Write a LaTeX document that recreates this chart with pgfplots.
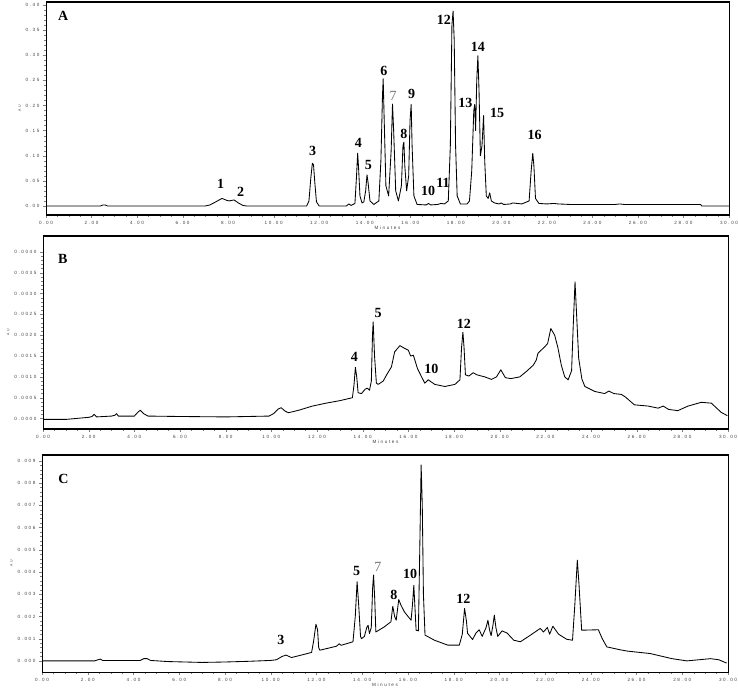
\documentclass[border=0pt]{standalone}
\usepackage{fontspec}
\setmainfont{Liberation Serif}
\setsansfont{Liberation Sans}
\newfontfamily\tickfont[LetterSpace=35]{Liberation Sans}
\usepackage{pgfplots}
\pgfplotsset{compat=1.18}

\pgfplotsset{
  chrom/.style={
    scale only axis, clip=false, scaled ticks=false,
    xmin=0, xmax=30, xtick={0,2,...,30}, minor x tick num=3,
    tick pos=left, tick align=outside,
    major tick length=3pt, minor tick length=1.8pt,
    axis line style={draw=black, line width=0.9pt},
    /pgf/number format/assume math mode=true,
    tick label style={font=\tickfont\fontsize{4.6}{5}\selectfont, color=black!75},
    xticklabel style={/pgf/number format/fixed, /pgf/number format/fixed zerofill, /pgf/number format/precision=2},
    xlabel={Minutes}, xlabel style={font=\tickfont\fontsize{4.6}{5}\selectfont, color=black!75, yshift=5pt},
    ylabel={AU}, ylabel style={font=\tickfont\fontsize{3.5}{4}\selectfont, color=black!75, yshift=-2pt},
  },
  trace/.style={black, line width=0.85pt, line join=round},
}
\tikzset{
  pk/.style={font=\fontsize{14}{14}\selectfont\bfseries, inner sep=0pt},
  pkl/.style={font=\fontsize{14}{14}\selectfont, text=black!55, inner sep=0pt},
}

\begin{document}
\begin{tikzpicture}[x=1pt,y=1pt]
\useasboundingbox (0,0) rectangle (738,688);

% ---------------- A ----------------
\begin{axis}[chrom, at={(46pt,473pt)}, anchor=south west, width=683pt, height=213pt,
  ymin=-0.018, ymax=0.406, ytick={0,0.05,...,0.40}, minor y tick num=4,
  yticklabel style={/pgf/number format/fixed, /pgf/number format/fixed zerofill, /pgf/number format/precision=2}]
\addplot[trace] coordinates {
(0,0) (2.40,0) (2.50,0.002) (2.60,0.002) (2.70,0) (7.00,0) (7.20,0.002) (7.45,0.008)
(7.73,0.015) (7.95,0.011) (8.05,0.010) (8.26,0.012) (8.45,0.006) (8.65,0.001) (8.80,0)
(11.45,0) (11.55,0.010) (11.63,0.055) (11.70,0.085) (11.75,0.082) (11.81,0.045) (11.88,0.008) (12.00,0)
(13.20,0) (13.30,0.004) (13.40,0.001) (13.57,0.005) (13.64,0.060) (13.69,0.105) (13.73,0.075)
(13.79,0.020) (13.88,0.006) (13.96,0.008) (14.04,0.030) (14.10,0.062) (14.15,0.045) (14.23,0.010)
(14.40,0.003) (14.62,0.010) (14.71,0.090) (14.78,0.220) (14.81,0.253) (14.85,0.180) (14.93,0.040)
(15.05,0.020) (15.16,0.110) (15.22,0.203) (15.27,0.150) (15.36,0.030) (15.48,0.010) (15.61,0.040)
(15.68,0.120) (15.72,0.127) (15.76,0.080) (15.84,0.030) (15.93,0.060) (15.99,0.170) (16.04,0.202)
(16.08,0.120) (16.16,0.020) (16.30,0.003) (16.70,0.002) (16.80,0.005) (16.90,0.002) (17.20,0.003)
(17.35,0.005) (17.50,0.004) (17.67,0.010) (17.76,0.120) (17.83,0.360) (17.88,0.388) (17.93,0.330)
(17.99,0.120) (18.06,0.020) (18.20,0.004) (18.50,0.004) (18.60,0.010) (18.70,0.070) (18.79,0.190)
(18.83,0.202) (18.87,0.150) (18.92,0.250) (18.97,0.299) (19.02,0.230) (19.08,0.100) (19.15,0.120)
(19.22,0.180) (19.27,0.090) (19.34,0.020) (19.42,0.015) (19.49,0.026) (19.56,0.010) (19.70,0.006)
(19.90,0.004) (20.00,0.006) (20.10,0.003) (20.40,0.004) (20.50,0.006) (20.70,0.005) (20.90,0.004)
(21.22,0.010) (21.31,0.070) (21.38,0.105) (21.43,0.080) (21.50,0.015) (21.65,0.005) (22.00,0.004)
(22.30,0.005) (22.50,0.004) (23.00,0.003) (25.00,0.003) (25.20,0.004) (25.40,0.003) (28.75,0.003)
(28.80,0) (30.00,0)
};
\node[pk] at (axis cs:0.76,0.378) {A};
\node[pk] at (axis cs:7.67,0.044) {1};
\node[pk] at (axis cs:8.55,0.029) {2};
\node[pk] at (axis cs:11.71,0.109) {3};
\node[pk] at (axis cs:13.72,0.125) {4};
\node[pk] at (axis cs:14.16,0.081) {5};
\node[pk] at (axis cs:14.84,0.269) {6};
\node[pkl] at (axis cs:15.25,0.219) {7};
\node[pk] at (axis cs:15.72,0.144) {8};
\node[pk] at (axis cs:16.06,0.223) {9};
\node[pk] at (axis cs:16.78,0.029) {10};
\node[pk] at (axis cs:17.44,0.046) {11};
\node[pk] at (axis cs:17.48,0.370) {12};
\node[pk] at (axis cs:18.42,0.205) {13};
\node[pk] at (axis cs:18.97,0.317) {14};
\node[pk] at (axis cs:19.82,0.186) {15};
\node[pk] at (axis cs:21.46,0.142) {16};
\end{axis}

% ---------------- B ----------------
\begin{axis}[chrom, at={(43pt,259pt)}, anchor=south west, width=685pt, height=193pt,
  ymin=-0.00025, ymax=0.00438, ytick={0,0.0005,...,0.0041}, minor y tick num=4,
  yticklabel style={/pgf/number format/fixed, /pgf/number format/fixed zerofill, /pgf/number format/precision=4}]
\addplot[trace] coordinates {
(0,-0.00002) (1.0,-0.00002) (2.0,0.00003) (2.15,0.00005) (2.24,0.00010) (2.35,0.00004) (3.0,0.00006)
(3.15,0.00008) (3.22,0.00012) (3.30,0.00006) (4.00,0.00006) (4.15,0.00015) (4.26,0.00020) (4.40,0.00012)
(4.60,0.00006) (6.0,0.00005) (8.0,0.00004) (9.90,0.00006) (10.10,0.00012) (10.30,0.00023) (10.43,0.00026)
(10.60,0.00018) (10.75,0.00014) (11.20,0.00020) (11.80,0.00030) (12.40,0.00037) (13.00,0.00043)
(13.55,0.00050) (13.62,0.00080) (13.68,0.00123) (13.74,0.00100) (13.80,0.00062) (13.95,0.00060)
(14.10,0.00070) (14.20,0.00073) (14.30,0.00068) (14.38,0.00090) (14.43,0.00200) (14.46,0.00232)
(14.52,0.00150) (14.60,0.00085) (14.68,0.00082) (14.90,0.00090) (15.05,0.00105) (15.26,0.00124)
(15.40,0.00160) (15.63,0.00175) (15.85,0.00168) (16.00,0.00164) (16.10,0.00150) (16.22,0.00152)
(16.40,0.00120) (16.58,0.00100) (16.72,0.00085) (16.87,0.00093) (17.00,0.00088) (17.16,0.00082)
(17.60,0.00077) (18.04,0.00082) (18.26,0.00093) (18.33,0.00170) (18.39,0.00207) (18.44,0.00170)
(18.50,0.00105) (18.65,0.00102) (18.84,0.00110) (19.00,0.00105) (19.35,0.00100) (19.64,0.00094)
(19.86,0.00100) (20.05,0.00117) (20.25,0.00098) (20.50,0.00096) (20.88,0.00100) (21.17,0.00113)
(21.47,0.00128) (21.60,0.00140) (21.68,0.00157) (21.97,0.00172) (22.10,0.00180) (22.24,0.00216)
(22.41,0.00200) (22.55,0.00170) (22.70,0.00128) (22.85,0.00100) (23.00,0.00093) (23.15,0.00115)
(23.22,0.00220) (23.30,0.00328) (23.36,0.00260) (23.46,0.00145) (23.60,0.00095) (23.73,0.00077)
(24.17,0.00065) (24.60,0.00060) (24.78,0.00066) (25.00,0.00060) (25.33,0.00058) (25.50,0.00052)
(25.90,0.00033) (26.50,0.00030) (26.94,0.00025) (27.16,0.00030) (27.40,0.00022) (27.80,0.00019)
(28.25,0.00030) (28.83,0.00039) (29.27,0.00037) (29.70,0.00015) (29.97,0.00007)
};
\node[pk] at (axis cs:0.87,0.00383) {B};
\node[pk] at (axis cs:13.64,0.00148) {4};
\node[pk] at (axis cs:14.68,0.00254) {5};
\node[pk] at (axis cs:17.01,0.00119) {10};
\node[pk] at (axis cs:18.43,0.00228) {12};
\end{axis}

% ---------------- C ----------------
\begin{axis}[chrom, at={(42pt,16pt)}, anchor=south west, width=686pt, height=217pt,
  ymin=-0.0005, ymax=0.00926, ytick={0,0.001,...,0.0091}, minor y tick num=4,
  yticklabel style={/pgf/number format/fixed, /pgf/number format/fixed zerofill, /pgf/number format/precision=3}]
\addplot[trace] coordinates {
(0,0) (2.3,0) (2.45,0.00005) (2.55,0.00008) (2.65,0.00002) (4.30,0.00002) (4.45,0.00010) (4.60,0.00010)
(4.75,0.00002) (5.5,-0.00003) (7.0,-0.00007) (8.0,-0.00005) (9.0,-0.00002) (10.0,0.00002) (10.25,0.00005)
(10.50,0.00020) (10.67,0.00026) (10.91,0.00015) (11.30,0.00025) (11.79,0.00038) (11.88,0.00090)
(11.98,0.00165) (12.05,0.00140) (12.10,0.00060) (12.15,0.00048) (12.88,0.00066) (13.00,0.00077)
(13.08,0.00070) (13.60,0.00086) (13.70,0.00200) (13.78,0.00356) (13.85,0.00250) (13.93,0.00110)
(13.97,0.00100) (14.10,0.00110) (14.20,0.00150) (14.26,0.00160) (14.32,0.00123) (14.40,0.00150)
(14.46,0.00330) (14.50,0.00386) (14.55,0.00280) (14.60,0.00130) (14.97,0.00153) (15.26,0.00176)
(15.34,0.00246) (15.42,0.00200) (15.49,0.00183) (15.60,0.00276) (15.70,0.00250) (15.85,0.00220)
(16.14,0.00183) (16.20,0.00250) (16.26,0.00340) (16.32,0.00220) (16.36,0.00138) (16.46,0.00135)
(16.52,0.00500) (16.58,0.00881) (16.63,0.00700) (16.68,0.00300) (16.75,0.00116) (17.16,0.00093)
(17.74,0.00071) (18.25,0.00071) (18.38,0.00120) (18.48,0.00236) (18.56,0.00180) (18.61,0.00124)
(18.83,0.00096) (18.97,0.00124) (19.12,0.00140) (19.25,0.00110) (19.42,0.00150) (19.50,0.00183)
(19.57,0.00140) (19.64,0.00113) (19.72,0.00160) (19.78,0.00206) (19.85,0.00150) (19.93,0.00110)
(20.12,0.00135) (20.34,0.00125) (20.63,0.00093) (20.92,0.00086) (21.35,0.00115) (21.79,0.00146)
(21.93,0.00130) (22.10,0.00150) (22.20,0.00120) (22.34,0.00156) (22.59,0.00120) (22.95,0.00097)
(23.20,0.00093) (23.30,0.00250) (23.41,0.00453) (23.48,0.00350) (23.60,0.00138) (24.33,0.00140)
(24.50,0.00100) (24.70,0.00063) (25.28,0.00050) (25.60,0.00044) (26.60,0.00033) (27.55,0.00010)
(28.20,0.00000) (29.24,0.00010) (29.60,0.00005) (29.94,-0.00010)
};
\node[pk] at (axis cs:0.94,0.00817) {C};
\node[pk] at (axis cs:10.45,0.00096) {3};
\node[pk] at (axis cs:13.76,0.00404) {5};
\node[pkl] at (axis cs:14.69,0.00424) {7};
\node[pk] at (axis cs:15.39,0.00296) {8};
\node[pk] at (axis cs:16.10,0.00389) {10};
\node[pk] at (axis cs:18.43,0.00278) {12};
\end{axis}

% panel frames as thin filled bars
\fill[black] (45.5,472.5) rectangle (46.5,686.5);
\fill[black] (728.5,472.5) rectangle (729.5,686.5);
\fill[black] (45.5,685.5) rectangle (729.5,686.5);
\fill[black] (45.5,472.5) rectangle (729.5,473.5);
\fill[black] (42.5,258.5) rectangle (43.5,452.5);
\fill[black] (727.5,258.5) rectangle (728.5,452.5);
\fill[black] (42.5,451.5) rectangle (728.5,452.5);
\fill[black] (42.5,258.5) rectangle (728.5,259.5);
\fill[black] (41.5,15.5) rectangle (42.5,233.5);
\fill[black] (727.5,15.5) rectangle (728.5,233.5);
\fill[black] (41.5,232.5) rectangle (728.5,233.5);
\fill[black] (41.5,15.5) rectangle (728.5,16.5);
\end{tikzpicture}
\end{document}
